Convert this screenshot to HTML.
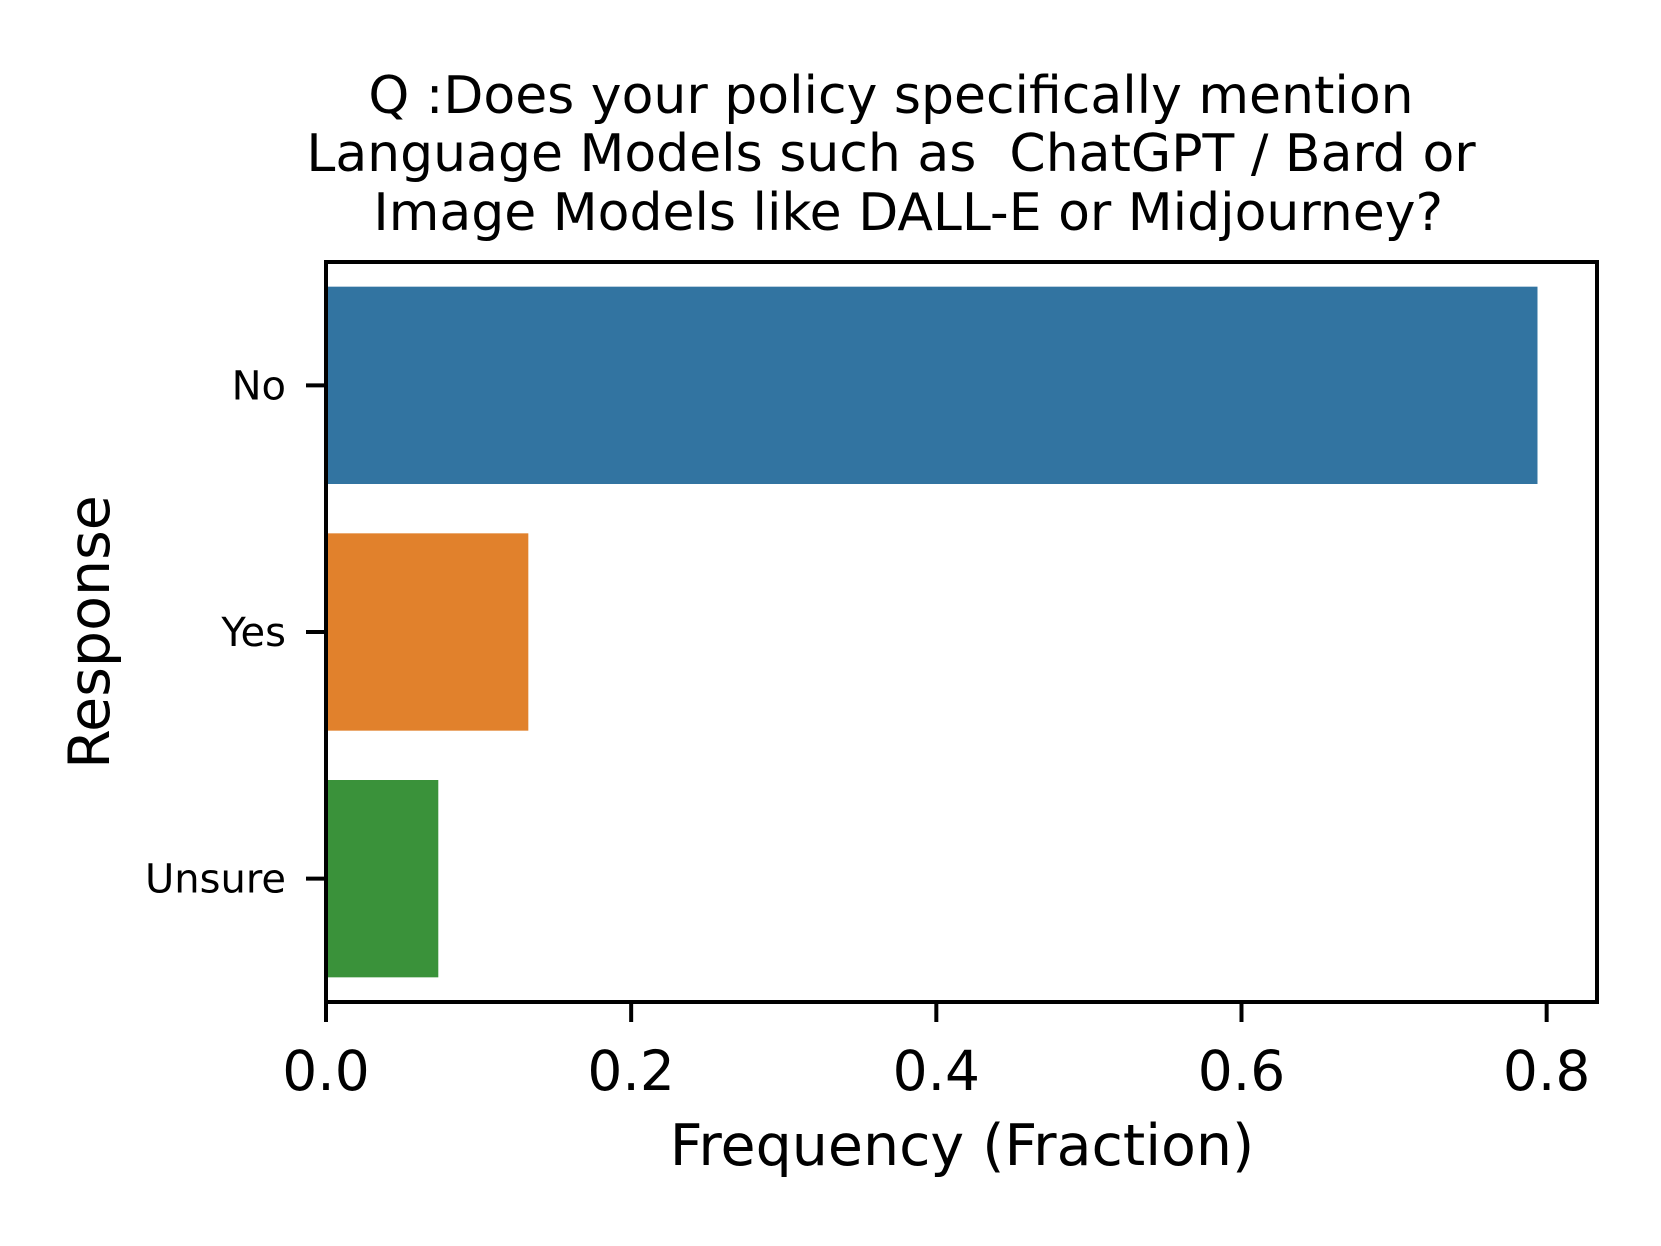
<!DOCTYPE html>
<html><head><meta charset="utf-8"><style>
html,body{margin:0;padding:0;background:#fff;}
svg{display:block;font-family:"DejaVu Sans","Liberation Sans",sans-serif;}
</style></head><body>
<svg id="chart" width="1661" height="1246" viewBox="0 0 1661 1246">
<g font-size="52" text-anchor="middle" fill="#000">
<text x="891" y="113">Q :Does your policy specifically mention</text>
<text x="891" y="171">Language Models such as&#160;&#160;ChatGPT / Bard or</text>
<text x="900" y="230">&#160;Image Models like DALL-E or Midjourney?</text>
</g>
<g id="bars"></g>
<g id="axes"></g>
<text x="962" y="1165" font-size="57" text-anchor="middle">Frequency (Fraction)</text>
<text x="0" y="0" font-size="57" text-anchor="middle" transform="translate(109,632) rotate(-90)">Response</text>
</svg>
<script>
const categories = ["No", "Yes", "Unsure"];
const values = [0.794, 0.1326, 0.0736];
const colors = ["#3274a1", "#e1812c", "#3a923a"];
const xTicks = [0.0, 0.2, 0.4, 0.6, 0.8];
const xTickLabels = ["0.0", "0.2", "0.4", "0.6", "0.8"];

const L = 326, R = 1597, T = 262, B = 1002;
const xMax = 0.833;
const xs = v => L + v / xMax * (R - L);
const band = (B - T) / categories.length;
const yc = i => T + band * (i + 0.5);
const NS = "http://www.w3.org/2000/svg";
const bars = document.getElementById('bars');
const axes = document.getElementById('axes');
function mk(tag, attrs, parent) {
  const e = document.createElementNS(NS, tag);
  for (const k in attrs) e.setAttribute(k, attrs[k]);
  parent.appendChild(e);
  return e;
}
categories.forEach((c, i) => {
  const r = mk('rect', {x: xs(0), y: yc(i) - band * 0.4, width: xs(values[i]) - xs(0), height: band * 0.8, fill: colors[i]}, bars);
  
  
  const t = mk('line', {x1: L - 20, x2: L, y1: yc(i), y2: yc(i), stroke: '#000', 'stroke-width': 4}, axes);
  
  
  const lb = mk('text', {x: L - 40, y: yc(i) + 14, 'font-size': 40, 'text-anchor': 'end'}, axes);
  lb.textContent = c;
  
  
});
xTicks.forEach((v, i) => {
  const t = mk('line', {x1: xs(v), x2: xs(v), y1: B, y2: B + 20, stroke: '#000', 'stroke-width': 4}, axes);
  
  
  const lb = mk('text', {x: xs(v), y: B + 88, 'font-size': 55, 'text-anchor': 'middle'}, axes);
  lb.textContent = xTickLabels[i];
  
  
});
const frame = mk('rect', {x: L, y: T, width: R - L, height: B - T, fill: 'none', stroke: '#000', 'stroke-width': 4}, axes);


</script>
</body></html>
